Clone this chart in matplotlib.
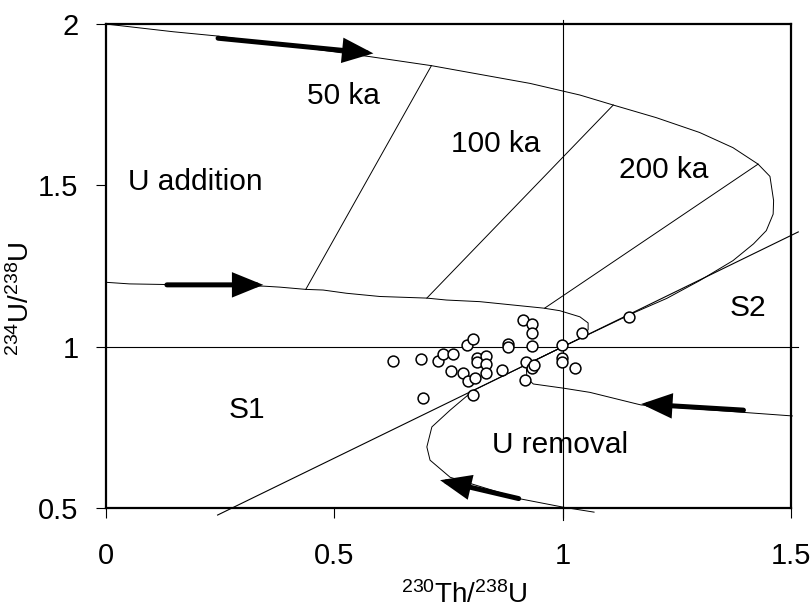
import matplotlib.pyplot as plt
import numpy as np

plt.rcParams['font.family'] = ['Liberation Sans', 'DejaVu Sans']
plt.rcParams['mathtext.fontset'] = 'custom'
plt.rcParams['mathtext.rm'] = 'Liberation Sans'
plt.rcParams['mathtext.it'] = 'Liberation Sans'

# measured samples
th_u = [0.628, 0.690, 0.695, 0.728, 0.739, 0.761, 0.756, 0.782, 0.790, 0.805,
        0.794, 0.809, 0.805, 0.813, 0.813, 0.833, 0.833, 0.832, 0.867, 0.881,
        0.881, 0.914, 0.934, 0.933, 0.933, 0.921, 0.933, 0.938, 0.918, 0.999,
        0.999, 0.999, 1.028, 1.042, 1.146]
u_u = [0.957, 0.962, 0.843, 0.957, 0.977, 0.977, 0.924, 0.918, 1.005, 1.024,
       0.895, 0.902, 0.851, 0.965, 0.952, 0.972, 0.946, 0.918, 0.929, 1.008,
       1.001, 1.083, 1.070, 1.042, 1.003, 0.952, 0.936, 0.943, 0.897, 1.005,
       0.967, 0.952, 0.936, 1.044, 1.093]

# upper envelope (U addition, 234U/238U = 2 start)
upper_x = [0.0, 0.148, 0.243, 0.578, 0.713, 0.929, 1.038, 1.111, 1.205, 1.300,
           1.373, 1.428, 1.454, 1.462, 1.461, 1.446, 1.418, 1.373, 1.300, 1.228,
           1.160, 1.0]
upper_y = [2.0, 1.976, 1.963, 1.899, 1.871, 1.816, 1.780, 1.749, 1.710, 1.664,
           1.617, 1.566, 1.528, 1.453, 1.411, 1.360, 1.319, 1.267, 1.205, 1.150,
           1.108, 1.0]

# lower envelope of U addition (start 1.2)
mid_x = [0.0, 0.052, 0.346, 0.381, 0.438, 0.476, 0.527, 0.600, 0.703, 0.746,
         0.819, 0.958, 0.994, 1.038, 1.056, 1.056, 1.045, 1.0]
mid_y = [1.2, 1.195, 1.188, 1.185, 1.178, 1.176, 1.166, 1.156, 1.151, 1.145,
         1.140, 1.120, 1.112, 1.093, 1.074, 1.053, 1.031, 1.0]

# U removal, right branch
right_x = [1.0, 0.935, 0.921, 0.922, 0.936, 1.002, 1.060, 1.163, 1.172, 1.503]
right_y = [1.0, 0.955, 0.930, 0.903, 0.885, 0.872, 0.859, 0.823, 0.820, 0.786]

# U removal, loop branch
loop_x = [1.0, 0.805, 0.754, 0.714, 0.703, 0.710, 0.754, 0.908, 1.003, 1.069]
loop_y = [1.0, 0.865, 0.804, 0.752, 0.690, 0.649, 0.596, 0.529, 0.503, 0.488]

# S1/S2 divide
divide_x = [0.245, 1.516]
divide_y = [0.479, 1.356]

# isochrons
iso_names = ['50 ka', '100 ka', '200 ka']
iso_x = [[0.438, 0.713], [0.703, 1.111], [0.961, 1.428]]
iso_y = [[1.178, 1.871], [1.151, 1.749], [1.120, 1.566]]

# arrows (tail, head)
arrow_tail = [(0.246, 1.956), (0.134, 1.192), (1.396, 0.804), (0.904, 0.530)]
arrow_head = [(0.586, 1.909), (0.345, 1.192), (1.172, 0.823), (0.732, 0.587)]

# region labels
labels = ['50 ka', '100 ka', '200 ka', 'U addition', 'S1', 'S2', 'U removal']
label_pos = [(0.520, 1.778), (0.854, 1.628), (1.222, 1.548), (0.049, 1.512),
             (0.309, 0.805), (1.405, 1.120), (0.994, 0.695)]
label_ha = ['center', 'center', 'center', 'left', 'center', 'center', 'center']

fig = plt.figure(figsize=(8.11, 6.14), dpi=100)
ax = fig.add_axes([0.1303, 0.1722, 0.845, 0.7887])

ax.plot([1, 1], [0.465, 2.012], color='black', lw=0.8, clip_on=False)
ax.plot([0, 1.515], [1, 1], color='black', lw=0.8, clip_on=False)

ax.plot(upper_x, upper_y, color='black', lw=0.7)
ax.plot(mid_x, mid_y, color='black', lw=0.7)
ax.plot(right_x, right_y, color='black', lw=0.7, clip_on=False)
ax.plot(loop_x, loop_y, color='black', lw=0.7, clip_on=False)
ax.plot(divide_x, divide_y, color='black', lw=0.8, clip_on=False)
for xs, ys in zip(iso_x, iso_y):
    ax.plot(xs, ys, color='black', lw=0.7)

for t, h in zip(arrow_tail, arrow_head):
    ax.annotate('', xy=h, xytext=t,
                arrowprops=dict(arrowstyle='-|>,head_length=1.6,head_width=0.65',
                                color='black', lw=3.6, shrinkA=0, shrinkB=0,
                                capstyle='round', joinstyle='miter'))

ax.plot(th_u, u_u, 'o', mfc='white', mec='black', ms=7.8, mew=1.1)

for txt, (px, py), ha in zip(labels, label_pos, label_ha):
    ax.text(px, py, txt, fontsize=21.5, ha=ha, va='center')

ax.set_xlim(0, 1.5)
ax.set_ylim(0.5, 2)
ax.set_xticks([0, 0.5, 1, 1.5])
ax.set_xticklabels(['0', '0.5', '1', '1.5'])
ax.set_yticks([0.5, 1, 1.5, 2])
ax.set_yticklabels(['0.5', '1', '1.5', '2'])
ax.tick_params(direction='out', length=7.5, width=0.8, labelsize=21)
ax.tick_params(axis='x', pad=17)
ax.tick_params(axis='y', pad=12)
for s in ax.spines.values():
    s.set_linewidth(1.6)

ax.set_xlabel('$^{230}$Th/$^{238}$U', fontsize=20)
ax.set_ylabel('$^{234}$U/$^{238}$U', fontsize=20)
ax.xaxis.set_label_coords(0.524, -0.150)
ax.yaxis.set_label_coords(-0.103, 0.432)

fig.savefig('out.png', dpi=100)
